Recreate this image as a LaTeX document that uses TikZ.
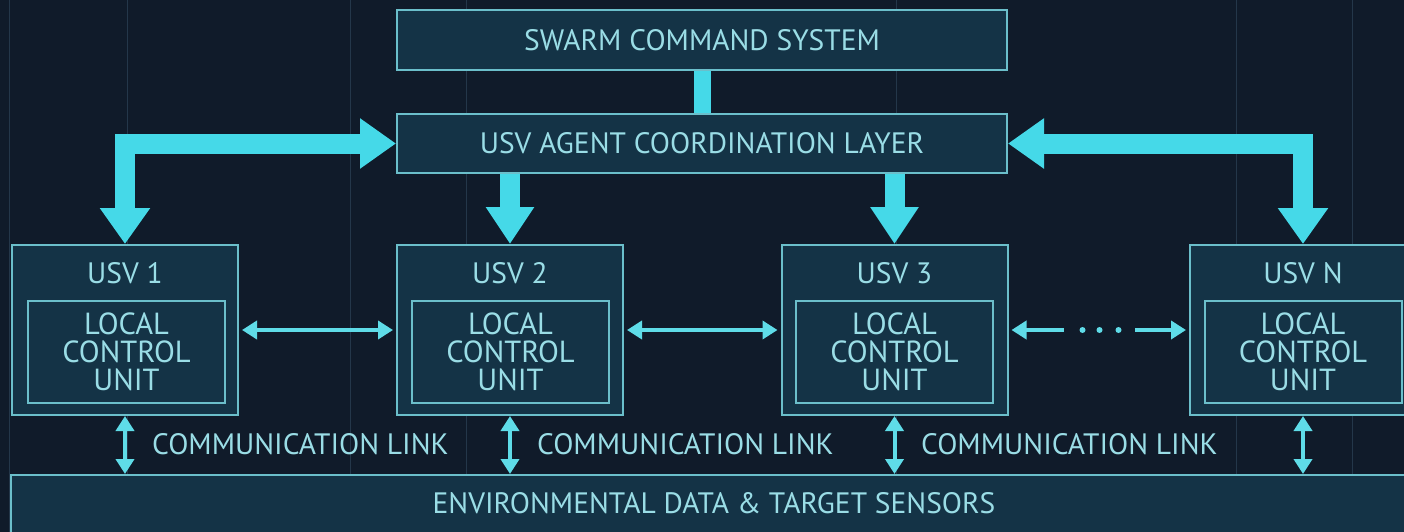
\documentclass[tikz,border=0pt]{standalone}
\usepackage{fontspec}
\setmainfont{PT Sans}
\usetikzlibrary{arrows.meta,calc}
\definecolor{bgc}{HTML}{101B2A}
\definecolor{boxfill}{HTML}{143346}
\definecolor{bordc}{HTML}{6BBFCB}
\definecolor{txtc}{HTML}{9ADDE6}
\definecolor{arrc}{HTML}{45D9E8}
\definecolor{linkc}{HTML}{5FDCE8}
\definecolor{gridc}{HTML}{24374A}
\begin{document}
\begin{tikzpicture}[x=1pt,y=-1pt,
  box/.style={draw=bordc,line width=2pt,fill=boxfill,inner sep=0pt,text=txtc,
    font=\fontsize{29.5}{30}\selectfont},
  txt/.style={text=txtc,inner sep=0pt,font=\fontsize{29.5}{30}\selectfont},
  lcu/.style={box,minimum width=197pt,minimum height=102pt,align=center,
    font=\fontsize{30.5}{28}\selectfont},
  usvbox/.style={box,minimum width=226pt,minimum height=170pt},
  bigarrow/.style={draw=arrc,line width=20pt,line join=miter},
  downarrow/.style={draw=arrc,line width=20pt,-{Triangle[width=46pt,length=37pt]}},
  smalltip/.style={Triangle[width=18pt,length=15pt]},
  smallarrow/.style={draw=linkc,line width=4pt,
    {Triangle[width=18pt,length=15pt]}-{Triangle[width=18pt,length=15pt]}},
  halfarrow/.style={draw=linkc,line width=4pt,-{Triangle[width=18pt,length=15pt]}},
  linkdot/.style={fill=linkc},
  gridline/.style={draw=gridc,line width=1pt}
]
\fill[bgc] (0,0) rectangle (1404,532);
\useasboundingbox (0,0) rectangle (1404,532);
\clip (0,0) rectangle (1404,532);

% faint background grid
\foreach \gx in {9,127,350,466,896,1236,1352}{
  \draw[gridline] (\gx,0) -- (\gx,532);
}

% top boxes
\node[box,minimum width=610pt,minimum height=60pt] (swarm) at (702,40) {SWARM COMMAND SYSTEM};
\node[box,minimum width=610pt,minimum height=59pt] (coord) at (702,143.5) {USV AGENT COORDINATION LAYER};

% USV boxes
\node[usvbox] (u1) at (125,330) {};
\node[usvbox] (u2) at (510,330) {};
\node[usvbox] (u3) at (894.5,330) {};
\node[usvbox] (uN) at (1303,330) {};

\node[txt] (u1t) at (125,273) {USV 1};
\node[txt] (u2t) at (510,273) {USV 2};
\node[txt] (u3t) at (894.5,273) {USV 3};
\node[txt] (uNt) at (1303,273) {USV N};

\node[lcu] (u1c) at (126.5,352) {LOCAL\\CONTROL\\UNIT};
\node[lcu] (u2c) at (510.5,352) {LOCAL\\CONTROL\\UNIT};
\node[lcu] (u3c) at (894.5,352) {LOCAL\\CONTROL\\UNIT};
\node[lcu] (uNc) at (1303,352) {LOCAL\\CONTROL\\UNIT};

% environment box
\node[box,minimum width=1406pt,minimum height=70pt] (env) at (714,510) {};
\node[txt] (envt) at (714,503) {ENVIRONMENTAL DATA \& TARGET SENSORS};

% swarm -> coordination
\draw[draw=arrc,line width=17pt] (swarm.south) -- (coord.north);

% big side arrows
\draw[bigarrow,{Triangle[width=48pt,length=36pt]}-{Triangle[width=48pt,length=36pt]}]
  (u1.north) |- (coord.west);
\draw[bigarrow,{Triangle[width=48pt,length=36pt]}-{Triangle[width=48pt,length=36pt]}]
  (uN.north) |- (coord.east);

% down arrows
\draw[downarrow] (coord.south -| u2.north) -- (u2.north);
\draw[downarrow] (coord.south -| u3.north) -- (u3.north);

% horizontal links between USVs
\draw[smallarrow,shorten <=3pt,shorten >=3pt] (u1.east) -- (u2.west);
\draw[smallarrow,shorten <=3pt,shorten >=3pt] (u2.east) -- (u3.west);
\draw[halfarrow] ($(u3.east)+(55,0)$) -- ([xshift=3pt]u3.east);
\draw[halfarrow] ($(uN.west)+(-54,0)$) -- ([xshift=-3pt]uN.west);
\foreach \dx in {74,91,110}{
  \fill[linkdot] ($(u3.east)+(\dx,0)$) circle[radius=3pt];
}

% communication links
\draw[smallarrow] (u1.south) -- (u1.south |- env.north);
\draw[smallarrow] (u2.south) -- (u2.south |- env.north);
\draw[smallarrow] (u3.south) -- (u3.south |- env.north);
\draw[smallarrow] (uN.south) -- (uN.south |- env.north);

\node[txt,anchor=west] (cl1) at (152,444) {COMMUNICATION LINK};
\node[txt,anchor=west] (cl2) at (537,444) {COMMUNICATION LINK};
\node[txt,anchor=west] (cl3) at (921,444) {COMMUNICATION LINK};
\end{tikzpicture}
\end{document}
